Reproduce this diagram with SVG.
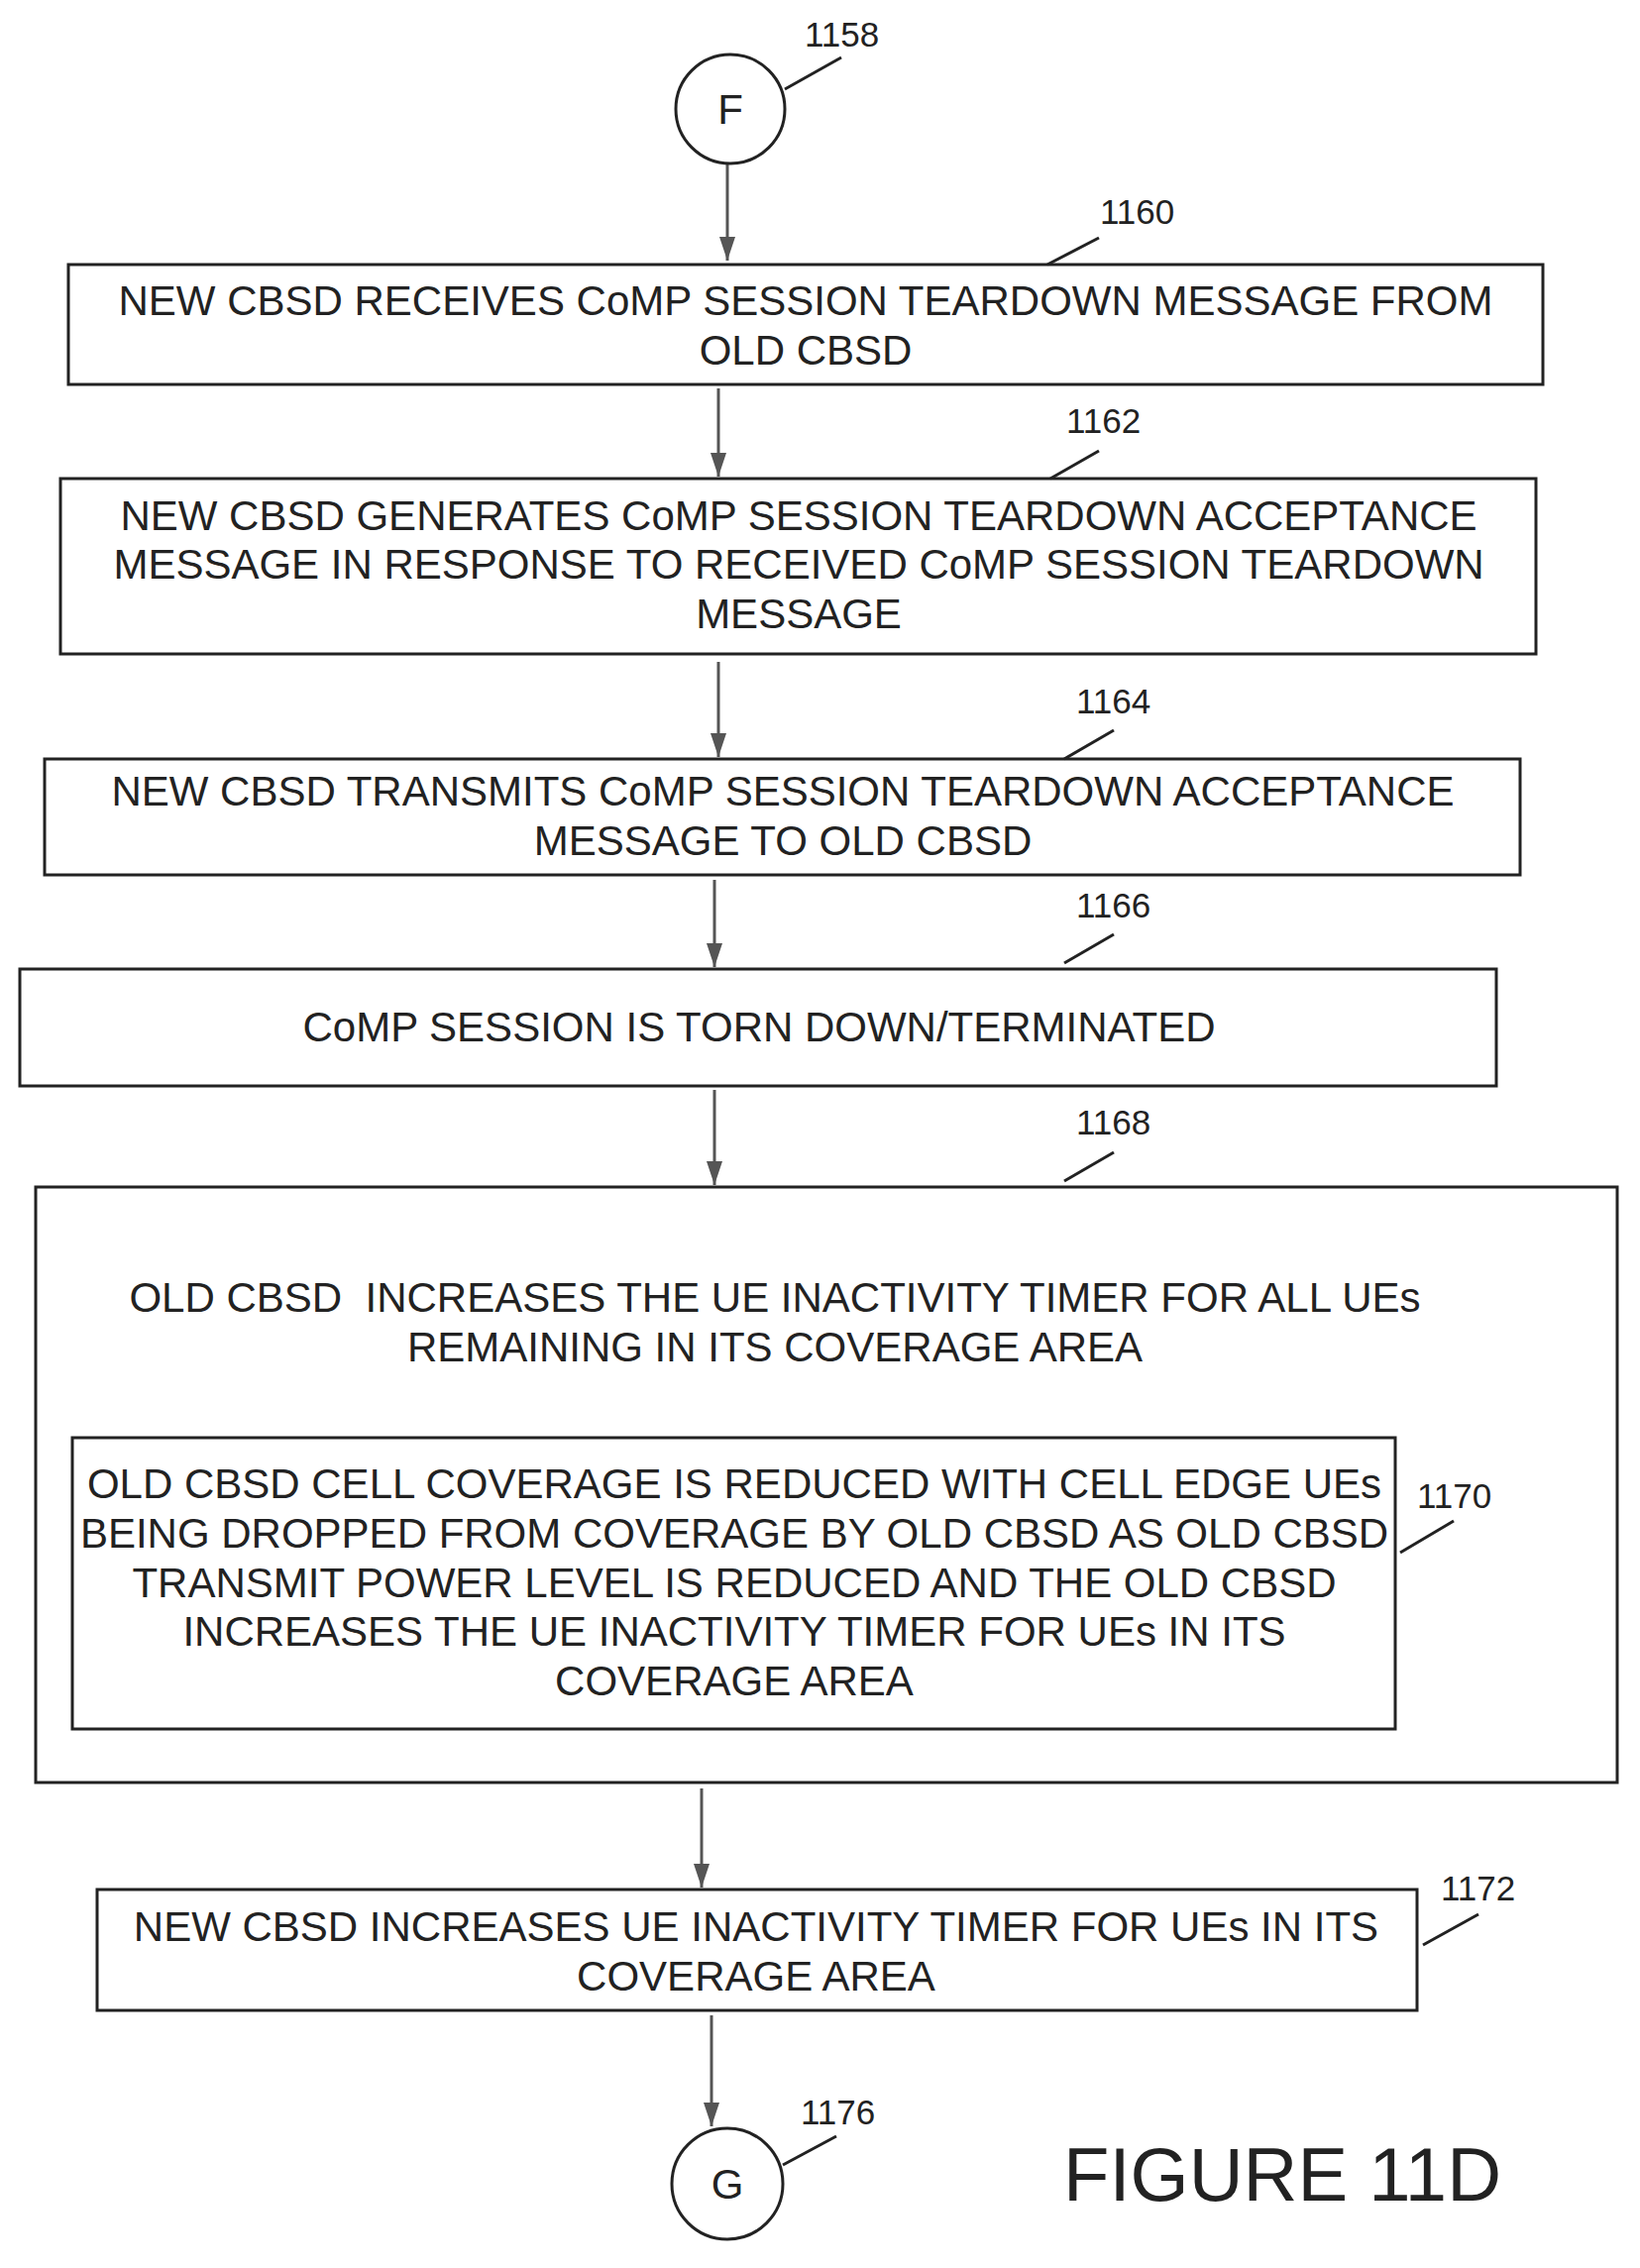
<svg xmlns="http://www.w3.org/2000/svg" width="1655" height="2289" viewBox="0 0 1655 2289">
<style>
.b{fill:#fff;stroke:#222;stroke-width:3}
.t{font-family:"Liberation Sans",Arial,sans-serif;font-size:42px;fill:#222;text-anchor:middle}
.n{font-family:"Liberation Sans",Arial,sans-serif;font-size:35px;fill:#222}
.l{stroke:#222;stroke-width:3;fill:none}
.c{stroke:#555;stroke-width:3;fill:none;marker-end:url(#a)}
</style>
<defs><marker id="a" markerWidth="24" markerHeight="16" refX="24" refY="8" orient="auto" markerUnits="userSpaceOnUse" viewBox="0 0 24 16"><path d="M0,0 L24,8 L0,16 z" fill="#555"/></marker></defs>
<rect width="1655" height="2289" fill="#fff"/>
<g id="connectors">
<line class="c" x1="734" y1="166" x2="734" y2="263"/>
<line class="c" x1="725" y1="392" x2="725" y2="481"/>
<line class="c" x1="725" y1="668" x2="725" y2="764"/>
<line class="c" x1="721" y1="888" x2="721" y2="976"/>
<line class="c" x1="721" y1="1100" x2="721" y2="1196"/>
<line class="c" x1="708" y1="1805" x2="708" y2="1905"/>
<line class="c" x1="718" y1="2034" x2="718" y2="2146"/>
</g>
<g id="n1158"><circle class="b" cx="737" cy="110" r="55"/><text class="t" x="737" y="125">F</text><line class="l" x1="792" y1="90" x2="849" y2="58"/><text class="n" x="812" y="47">1158</text></g>
<g id="n1160"><rect class="b" x="69" y="267" width="1488" height="121"/><text class="t" x="813" y="318">NEW CBSD RECEIVES CoMP SESSION TEARDOWN MESSAGE FROM</text><text class="t" x="813" y="368">OLD CBSD</text><line class="l" x1="1057" y1="267" x2="1109" y2="240"/><text class="n" x="1110" y="226">1160</text></g>
<g id="n1162"><rect class="b" x="61" y="483" width="1489" height="177"/><text class="t" x="806" y="535">NEW CBSD GENERATES CoMP SESSION TEARDOWN ACCEPTANCE</text><text class="t" x="806" y="584">MESSAGE IN RESPONSE TO RECEIVED CoMP SESSION TEARDOWN</text><text class="t" x="806" y="634">MESSAGE</text><line class="l" x1="1060" y1="483" x2="1109" y2="455"/><text class="n" x="1076" y="437">1162</text></g>
<g id="n1164"><rect class="b" x="45" y="766" width="1489" height="117"/><text class="t" x="790" y="813">NEW CBSD TRANSMITS CoMP SESSION TEARDOWN ACCEPTANCE</text><text class="t" x="790" y="863">MESSAGE TO OLD CBSD</text><line class="l" x1="1074" y1="766" x2="1124" y2="737"/><text class="n" x="1086" y="720">1164</text></g>
<g id="n1166"><rect class="b" x="20" y="978" width="1490" height="118"/><text class="t" x="766" y="1051">CoMP SESSION IS TORN DOWN/TERMINATED</text><line class="l" x1="1074" y1="972" x2="1124" y2="943"/><text class="n" x="1086" y="926">1166</text></g>
<g id="n1168"><rect class="b" x="36" y="1198" width="1596" height="601"/><text class="t" x="782" y="1324" xml:space="preserve">OLD CBSD  INCREASES THE UE INACTIVITY TIMER FOR ALL UEs</text><text class="t" x="782" y="1374">REMAINING IN ITS COVERAGE AREA</text><line class="l" x1="1074" y1="1192" x2="1124" y2="1163"/><text class="n" x="1086" y="1145">1168</text></g>
<g id="n1170"><rect class="b" x="73" y="1451" width="1335" height="294"/><text class="t" x="741" y="1512">OLD CBSD CELL COVERAGE IS REDUCED WITH CELL EDGE UEs</text><text class="t" x="741" y="1562">BEING DROPPED FROM COVERAGE BY OLD CBSD AS OLD CBSD</text><text class="t" x="741" y="1612">TRANSMIT POWER LEVEL IS REDUCED AND THE OLD CBSD</text><text class="t" x="741" y="1661">INCREASES THE UE INACTIVITY TIMER FOR UEs IN ITS</text><text class="t" x="741" y="1711">COVERAGE AREA</text><line class="l" x1="1413" y1="1567" x2="1467" y2="1535"/><text class="n" x="1430" y="1522">1170</text></g>
<g id="n1172"><rect class="b" x="98" y="1907" width="1332" height="122"/><text class="t" x="763" y="1959">NEW CBSD INCREASES UE INACTIVITY TIMER FOR UEs IN ITS</text><text class="t" x="763" y="2009">COVERAGE AREA</text><line class="l" x1="1436" y1="1963" x2="1492" y2="1932"/><text class="n" x="1454" y="1918">1172</text></g>
<g id="n1176"><circle class="b" cx="734" cy="2204" r="56"/><text class="t" x="734" y="2219">G</text><line class="l" x1="790" y1="2185" x2="844" y2="2156"/><text class="n" x="808" y="2144">1176</text></g>
<text x="1073" y="2221" style="font-family:'Liberation Sans',Arial,sans-serif;font-size:76px;fill:#222">FIGURE 11D</text>
</svg>
